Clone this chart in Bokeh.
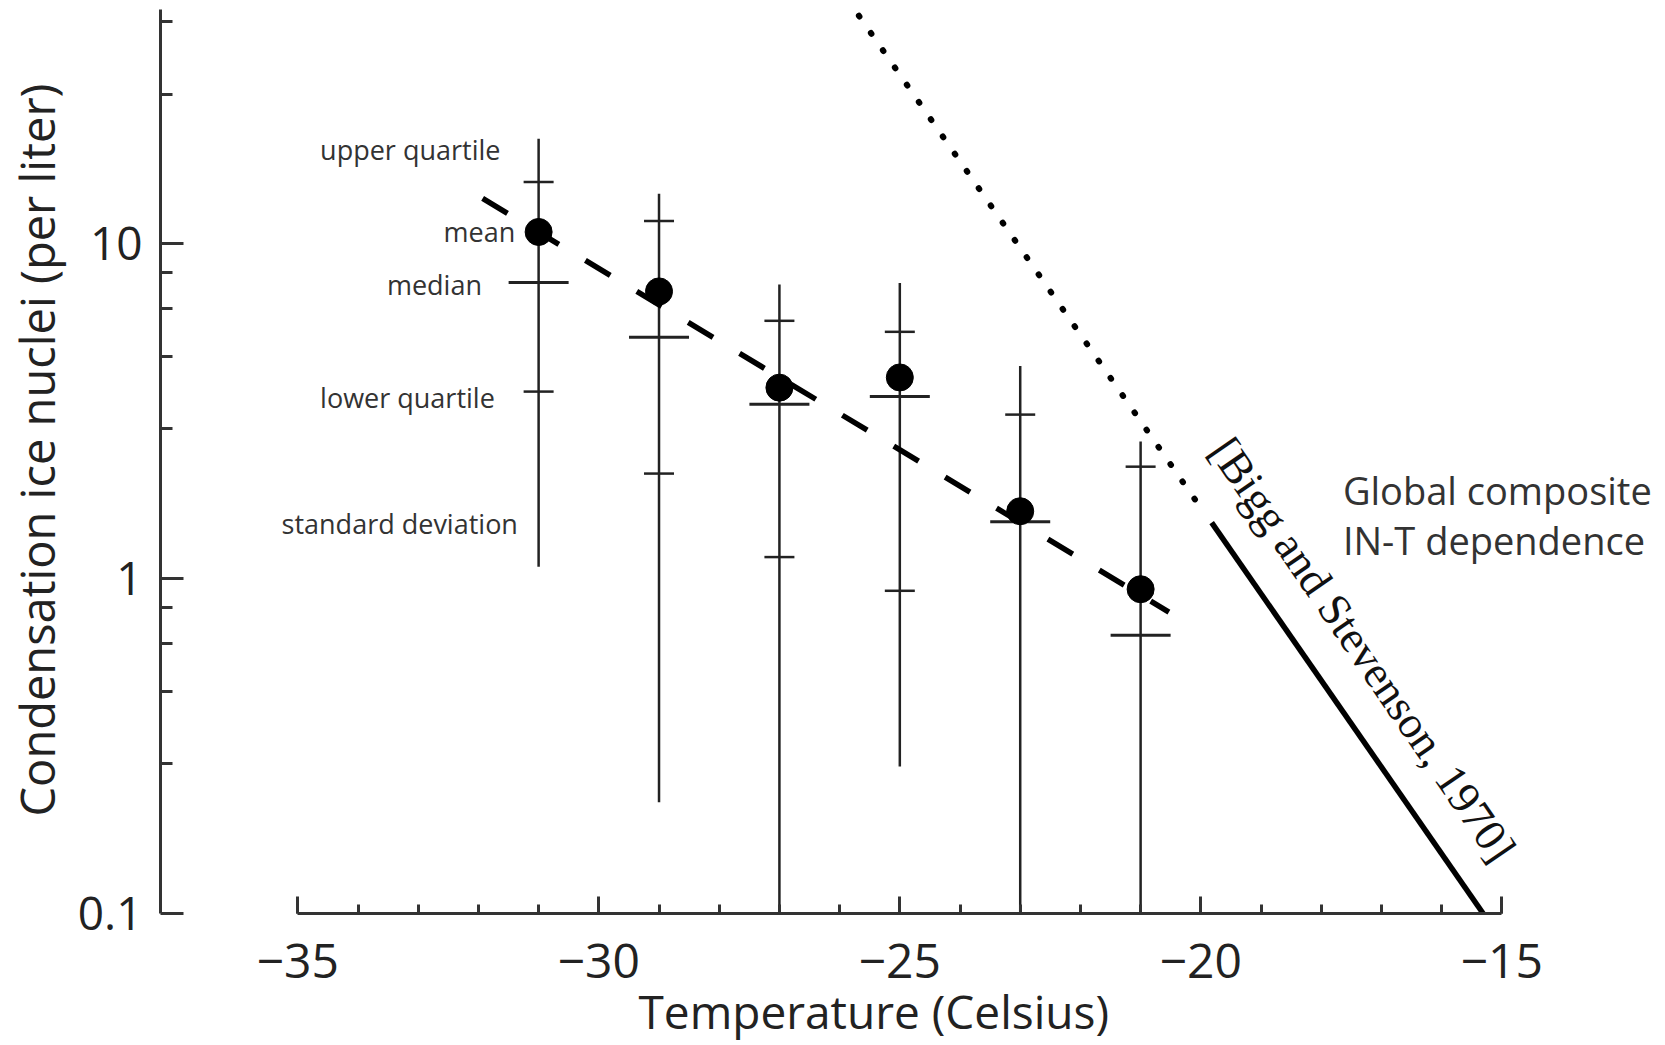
from bokeh.plotting import figure
from bokeh.models import FixedTicker, Title
from bokeh.core.properties import value
from bokeh.embed import file_html
from bokeh.resources import INLINE

# ---- data ----
temps = [-31, -29, -27, -25, -23, -21]
mean_in = [10.85, 7.21, 3.72, 3.99, 1.59, 0.93]
median_in = [7.66, 5.26, 3.32, 3.50, 1.48, 0.678]
upper_q = [15.3, 11.7, 5.89, 5.46, 3.09, 2.16]
lower_q = [3.62, 2.06, 1.16, 0.92, 0.08, 0.06]
sd_hi = [20.6, 14.1, 7.56, 7.64, 4.32, 2.57]
sd_lo = [1.085, 0.215, 0.05, 0.275, 0.05, 0.05]

fit_t = [-31.93, -20.53]
fit_n = [13.66, 0.795]

bigg_extrap_t = [-25.68, -19.95]
bigg_extrap_n = [48.0, 1.58]
bigg_t = [-19.82, -15.31]
bigg_n = [1.47, 0.1]

x_ticks = [-35, -30, -25, -20, -15]
x_tick_labels = ["\u221235", "\u221230", "\u221225", "\u221220", "\u221215"]
x_minor = list(range(-35, -14))
y_ticks = [0.1, 1, 10]
y_tick_labels = ["0.1", "1", "10"]
y_minor = [0.28, 0.46, 0.64, 0.82, 2.8, 4.6, 6.4, 8.2, 28, 46]

key_labels = ["upper quartile", "mean", "median", "lower quartile", "standard deviation"]
x_label = "Temperature (Celsius)"
y_label = "Condensation ice nuclei (per liter)"
composite_lines = ["Global composite", "IN-T dependence"]
ref_label = "[Bigg and Stevenson, 1970]"

FONT = "Open Sans"
INK = "#222222"

p = figure(width=1665, height=1045, x_range=(-37.281, -12.281), y_range=(0.1, 50.1),
           y_axis_type="log", output_backend="svg", toolbar_location=None,
           min_border_left=160, min_border_right=0, min_border_top=9, min_border_bottom=132)
p.grid.visible = False
p.outline_line_color = None
p.background_fill_color = "white"
p.border_fill_color = "white"

# x axis
xa = p.xaxis[0]
xa.ticker = FixedTicker(ticks=x_ticks, minor_ticks=x_minor)
xa.major_label_overrides = dict(zip(x_ticks, x_tick_labels))
xa.bounds = (-35, -15)
xa.major_tick_in = 17
xa.major_tick_out = 0
xa.minor_tick_in = 9
xa.minor_tick_out = 0
xa.axis_line_width = 3
xa.major_tick_line_width = 3
xa.minor_tick_line_width = 3
xa.axis_line_color = "#333333"
xa.major_tick_line_color = "#333333"
xa.minor_tick_line_color = "#333333"
xa.major_label_text_font = FONT
xa.major_label_text_font_size = "48px"
xa.major_label_text_color = INK
xa.major_label_standoff = 30

# x axis title, placed below the tick labels at the original's horizontal position
p.add_layout(Title(text=x_label, align="left", offset=478, vertical_align="top",
                   standoff=-2, text_font=FONT, text_font_size="46px",
                   text_font_style="normal", text_color=INK), "below")

# y axis
ya = p.yaxis[0]
ya.ticker = FixedTicker(ticks=y_ticks, minor_ticks=y_minor)
ya.major_label_overrides = dict(zip(y_ticks, y_tick_labels))
ya.bounds = (0.1, 50)
ya.major_tick_in = 23
ya.major_tick_out = 0
ya.minor_tick_in = 12
ya.minor_tick_out = 0
ya.axis_line_width = 3
ya.major_tick_line_width = 3
ya.minor_tick_line_width = 3
ya.axis_line_color = "#333333"
ya.major_tick_line_color = "#333333"
ya.minor_tick_line_color = "#333333"
ya.major_label_text_font = FONT
ya.major_label_text_font_size = "46px"
ya.major_label_text_color = INK
ya.major_label_standoff = 18

# y axis title, left of the tick labels at the original's vertical position
p.add_layout(Title(text=y_label, align="left", offset=97, vertical_align="top",
                   standoff=8, text_font=FONT, text_font_size="47px",
                   text_font_style="normal", text_color=INK), "left")

# error bars (standard deviation)
p.segment(x0=temps, y0=sd_lo, x1=temps, y1=sd_hi, line_color=INK, line_width=2.5)
# quartiles
p.scatter(x=temps, y=upper_q, marker="dash", size=30, line_color=INK, line_width=2.5)
p.scatter(x=temps, y=lower_q, marker="dash", size=30, line_color=INK, line_width=2.5)
# medians
p.scatter(x=temps, y=median_in, marker="dash", size=60, line_color=INK, line_width=3)

# fit (dashed)
p.line(x=fit_t, y=fit_n, line_color="black", line_width=5.5, line_dash="29 31")
# Bigg & Stevenson
p.line(x=bigg_extrap_t, y=bigg_extrap_n, line_color="black", line_width=6,
       line_dash="1 20", line_cap="round")
p.line(x=bigg_t, y=bigg_n, line_color="black", line_width=5.5)

# means
p.scatter(x=temps, y=mean_in, marker="circle", size=27, fill_color="black", line_color="black")

# key labels
p.text(x=[-34.63, -32.58, -33.52, -34.63, -35.27], y=[19.1, 10.9, 7.55, 3.48, 1.46],
       text=key_labels, text_font=value(FONT), text_font_size="27px",
       text_align="left", text_baseline="middle", text_color="#333333")

# composite label
p.text(x=[-17.64, -17.64], y=[1.84, 1.305], text=composite_lines,
       text_font=value(FONT), text_font_size="38px",
       text_align="left", text_baseline="middle", text_color="#333333")

# reference label along the line
p.text(x=[-17.31], y=[0.613], text=[ref_label], angle=-0.9687,
       text_font=value("Liberation Serif"), text_font_size="45px",
       text_align="center", text_baseline="middle", text_color="#111111")

open("out.html", "w").write(file_html(p, INLINE))
